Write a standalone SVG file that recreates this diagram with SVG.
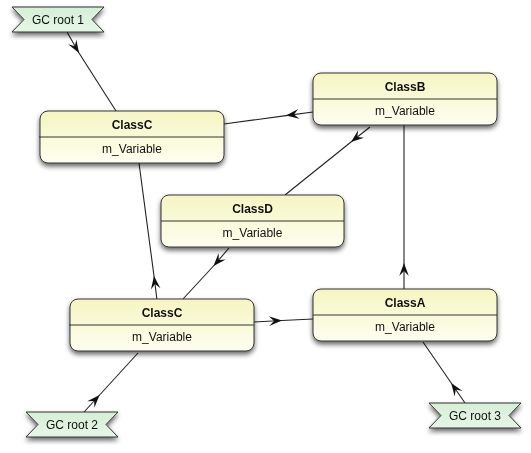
<svg xmlns="http://www.w3.org/2000/svg" width="531" height="453" viewBox="0 0 531 453">
<defs>
<linearGradient id="gNode" x1="0" y1="0" x2="0" y2="1">
<stop offset="0" stop-color="#f5f5c2"/>
<stop offset="1" stop-color="#fefef0"/>
</linearGradient>
<linearGradient id="gRoot" x1="0" y1="0" x2="0" y2="1">
<stop offset="0" stop-color="#d6eed6"/>
<stop offset="1" stop-color="#e6f6e6"/>
</linearGradient>
<filter id="sh" x="-10%" y="-20%" width="120%" height="150%">
<feGaussianBlur in="SourceAlpha" stdDeviation="2.4"/>
<feOffset dx="0" dy="3" result="b"/>
<feComponentTransfer><feFuncA type="linear" slope="0.6"/></feComponentTransfer>
<feMerge><feMergeNode/><feMergeNode in="SourceGraphic"/></feMerge>
</filter>
<marker id="arr" viewBox="-14 -6 15 12" refX="0" refY="0" markerWidth="15" markerHeight="12" markerUnits="userSpaceOnUse" orient="auto">
<path d="M0,0 L-13,-4.8 L-8,0 L-13,4.8 Z" fill="#111"/>
</marker>
</defs>
<style>
.box{fill:url(#gNode);stroke:#333;stroke-width:1}
.root{fill:url(#gRoot);stroke:#333;stroke-width:1}
.div{stroke:#333;stroke-width:1}
.t{font-family:"Liberation Sans",Arial,sans-serif;font-size:12px;fill:#111;text-anchor:middle}
.b{font-weight:bold}
.c{fill:none;stroke:#222;stroke-width:1.1;marker-mid:url(#arr)}
</style>
<rect width="531" height="453" fill="#ffffff"/>
<g id="connectors">
<polyline class="c" points="67,32 79,53 116,111"/>
<polyline class="c" points="313,112 286,115.6 224,124"/>
<polyline class="c" points="370,127 351,142 285,195"/>
<polyline class="c" points="404,289 404,263 404,125" style="stroke:#444;stroke-width:1.3"/>
<polyline class="c" points="229,248 213.5,266 183,299"/>
<polyline class="c" points="157,300 154,276 139,163"/>
<polyline class="c" points="254,322 282,320.5 313,319"/>
<polyline class="c" points="84,412 99.6,395 138,353"/>
<polyline class="c" points="465,403 451.2,383 423,342"/>
</g>
<g id="classC1" filter="url(#sh)">
<rect class="box" x="40" y="111" width="184" height="52" rx="8"/>
<line class="div" x1="39" y1="137" x2="224" y2="137"/>
<text class="t b" x="132" y="129">ClassC</text>
<text class="t" x="132" y="153">m_Variable</text>
</g>
<g id="classB" filter="url(#sh)">
<rect class="box" x="313" y="73" width="184" height="52" rx="8"/>
<line class="div" x1="313" y1="99" x2="497" y2="99"/>
<text class="t b" x="405" y="91">ClassB</text>
<text class="t" x="405" y="115">m_Variable</text>
</g>
<g id="classD" filter="url(#sh)">
<rect class="box" x="161" y="195" width="183" height="52" rx="8"/>
<line class="div" x1="161" y1="221" x2="344" y2="221"/>
<text class="t b" x="252.5" y="213">ClassD</text>
<text class="t" x="252.5" y="237">m_Variable</text>
</g>
<g id="classC2" filter="url(#sh)">
<rect class="box" x="70" y="299" width="184" height="52" rx="8"/>
<line class="div" x1="69" y1="325" x2="254" y2="325"/>
<text class="t b" x="162" y="317">ClassC</text>
<text class="t" x="162" y="341">m_Variable</text>
</g>
<g id="classA" filter="url(#sh)">
<rect class="box" x="313" y="289" width="184" height="52" rx="8"/>
<line class="div" x1="313" y1="315" x2="497" y2="315"/>
<text class="t b" x="405" y="307">ClassA</text>
<text class="t" x="405" y="331">m_Variable</text>
</g>
<g id="gcroot1" filter="url(#sh)">
<polygon class="root" points="12,7 104,7 92,19.5 104,32 12,32 24,19.5"/>
<text class="t" x="58" y="24">GC root 1</text>
</g>
<g id="gcroot2" filter="url(#sh)">
<polygon class="root" points="26,412 118,412 106,424.5 118,437 26,437 38,424.5"/>
<text class="t" x="72" y="429">GC root 2</text>
</g>
<g id="gcroot3" filter="url(#sh)">
<polygon class="root" points="429,403 521,403 509,415.5 521,428 429,428 441,415.5"/>
<text class="t" x="475" y="420">GC root 3</text>
</g>
</svg>
